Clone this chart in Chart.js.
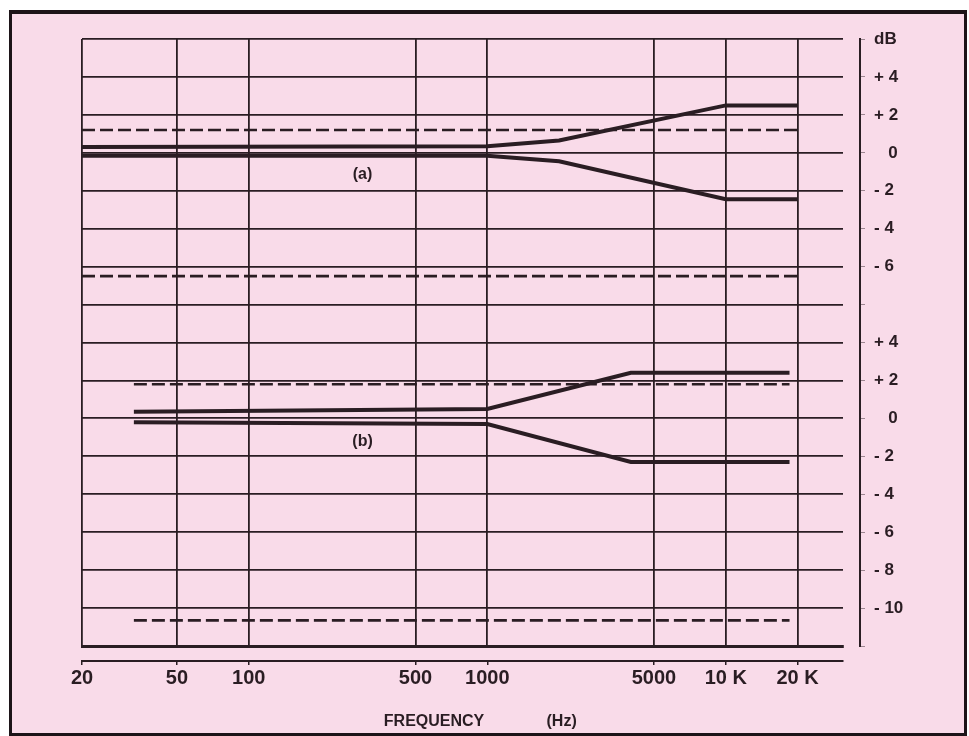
<!DOCTYPE html>
<html lang="en">
<head>
<meta charset="UTF-8">
<title>Frequency response</title>
<script src="https://cdn.jsdelivr.net/npm/chart.js"></script>
<style>
    body { margin: 0; background: #fff; }
    #frame {
        position: absolute; left: 9px; top: 10px; width: 958px; height: 726px;
        box-sizing: border-box; border: 3px solid #1d1418; border-top-width: 4px;
        background: #f9dbe9;
    }
    canvas { display: block; }
</style>
</head>
<body>
<div id="frame"><canvas id="response" width="952" height="719"></canvas></div>
<script>
    // x axis (Hz)
    const xTicks = [20, 50, 100, 500, 1000, 5000, 10000, 20000];
    const xTickLabels = ['20', '50', '100', '500', '1000', '5000', '10 K', '20 K'];
    const xTitle = '        FREQUENCY              (Hz)';

    // right axis, top to bottom, one label per 2 dB line
    const yTickLabels = ['dB', '+ 4', '+ 2', '   0', '- 2', '- 4', '- 6', '',
                         '+ 4', '+ 2', '   0', '- 2', '- 4', '- 6', '- 8', '- 10', ''];

    // curve (a)
    const aFreq = [20, 1000, 2000, 10000, 20000];
    const aUpper = [0.3, 0.35, 0.65, 2.5, 2.5];
    const aLower = [-0.15, -0.15, -0.45, -2.45, -2.45];
    const aLimitFreq = [20, 20000];
    const aLimitHigh = [1.2, 1.2];
    const aLimitLow = [-6.5, -6.5];

    // curve (b)
    const bFreq = [33, 1000, 4000, 18500];
    const bUpper = [0.35, 0.5, 2.4, 2.4];
    const bLower = [-0.2, -0.3, -2.3, -2.3];
    const bLimitFreq = [33, 18500];
    const bLimitHigh = [1.8, 1.8];
    const bLimitLow = [-10.65, -10.65];

    // labels on the plot
    const noteText = ['(a)', '(b)'];
    const noteFreq = [300, 300];
    const noteDb = [-1.15, -1.2];
    const noteAxis = ['y', 'yb'];

    const ink = '#2a1d23';
    const family = '"Liberation Sans", Arial, sans-serif';

    function pts(freq, db) {
        return freq.map((f, i) => ({ x: f, y: db[i] }));
    }

    const solid = { borderColor: ink, borderWidth: 4, pointRadius: 0, fill: false, tension: 0 };
    const dashed = { borderColor: ink, borderWidth: 2.6, borderDash: [13, 5], pointRadius: 0, fill: false };

    const notes = {
        id: 'notes',
        afterDatasetsDraw(chart) {
            const ctx = chart.ctx;
            ctx.save();
            ctx.font = 'bold 16px ' + family;
            ctx.fillStyle = ink;
            ctx.textAlign = 'center';
            ctx.textBaseline = 'middle';
            noteText.forEach((t, i) => {
                const x = chart.scales.x.getPixelForValue(noteFreq[i]);
                const y = chart.scales[noteAxis[i]].getPixelForValue(noteDb[i]);
                ctx.fillText(t, x, y);
            });
            ctx.restore();
        }
    };

    const useTicks = s => { s.ticks = xTicks.map(v => ({ value: v })); };

    new Chart(document.getElementById('response'), {
        type: 'line',
        data: {
            datasets: [
                { ...dashed, data: pts(aLimitFreq, aLimitHigh), yAxisID: 'y' },
                { ...dashed, data: pts(aLimitFreq, aLimitLow), yAxisID: 'y' },
                { ...solid, data: pts(aFreq, aUpper), yAxisID: 'y' },
                { ...solid, data: pts(aFreq, aLower), yAxisID: 'y' },
                { ...dashed, data: pts(bLimitFreq, bLimitHigh), yAxisID: 'yb' },
                { ...dashed, data: pts(bLimitFreq, bLimitLow), yAxisID: 'yb' },
                { ...solid, data: pts(bFreq, bUpper), yAxisID: 'yb' },
                { ...solid, data: pts(bFreq, bLower), yAxisID: 'yb' }
            ]
        },
        options: {
            responsive: false,
            animation: false,
            layout: { padding: { left: 70, top: 25, right: 44, bottom: 0 } },
            plugins: { legend: { display: false }, tooltip: { enabled: false } },
            scales: {
                x: {
                    type: 'logarithmic', position: 'bottom', weight: 0, min: 20, max: 31000,
                    afterBuildTicks: useTicks,
                    ticks: { display: false },
                    grid: { color: ink, lineWidth: 1.8, drawTicks: false },
                    border: { display: true, color: ink, width: 3 },
                    afterFit: s => { s.height = 15; }
                },
                xAxis: {
                    type: 'logarithmic', position: 'bottom', weight: 1, min: 20, max: 31000,
                    afterBuildTicks: useTicks,
                    ticks: {
                        autoSkip: false, maxRotation: 0, padding: 1, color: ink,
                        font: { family: family, size: 20, weight: 'bold' },
                        callback: (v, i) => xTickLabels[i]
                    },
                    grid: { drawOnChartArea: false, color: ink, tickLength: 4, lineWidth: 1.5 },
                    border: { display: true, color: ink, width: 2 },
                    title: {
                        display: true, text: xTitle, color: ink,
                        font: { family: family, size: 16, weight: 'bold' },
                        padding: { top: 0, bottom: 2 }
                    },
                    afterFit: s => { s.height = 72; }
                },
                y: {
                    type: 'linear', position: 'right', weight: 0, min: -26, max: 6,
                    ticks: { display: false, stepSize: 2 },
                    grid: { color: ink, lineWidth: 1.8, drawTicks: false },
                    border: { display: false },
                    afterFit: s => { s.width = 17; }
                },
                yb: { type: 'linear', display: false, min: -12, max: 20 },
                yAxis: {
                    type: 'linear', position: 'right', weight: 1, min: -26, max: 6,
                    ticks: {
                        stepSize: 2, padding: 9, autoSkip: false, color: ink,
                        font: { family: family, size: 17, weight: 'bold' },
                        callback: v => yTickLabels[Math.round((6 - v) / 2)]
                    },
                    grid: { drawOnChartArea: false, tickLength: 5, tickColor: 'rgba(42,29,35,0.45)' },
                    border: { display: true, color: ink, width: 2 },
                    afterFit: s => { s.width = 60; }
                }
            }
        },
        plugins: [notes]
    });
</script>
</body>
</html>
